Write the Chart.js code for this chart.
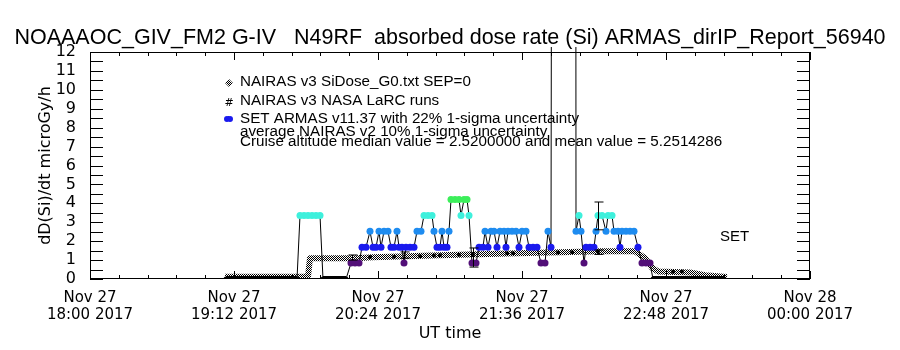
<!DOCTYPE html>
<html>
<head>
<meta charset="utf-8">
<script src="https://cdn.jsdelivr.net/npm/chart.js@4.4.0/dist/chart.umd.min.js"></script>
<style>
  html, body { margin: 0; padding: 0; background: #fff; }
  #wrap { width: 900px; height: 350px; }
</style>
</head>
<body>
<div id="wrap"><canvas id="dose-chart" width="900" height="350"></canvas></div>
<script>
// x values are minutes after Nov 27 2017 18:00 UT
const xTickMinutes = [0, 72, 144, 216, 288, 360];
const xTickLabels = [
    ['Nov 27', '18:00 2017'],
    ['Nov 27', '19:12 2017'],
    ['Nov 27', '20:24 2017'],
    ['Nov 27', '21:36 2017'],
    ['Nov 27', '22:48 2017'],
    ['Nov 28', '00:00 2017']
];

// NAIRAS v3 SiDose_G0 (grey band)
const nairasTimes = [67.5, 109, 110, 132.5, 141.5, 175, 208.5, 235, 255, 272.5, 277.5, 281, 284, 300, 307.5, 318.5];
const nairasDose  = [0.12, 0.12, 1.1, 1.1, 1.15, 1.25, 1.35, 1.42, 1.47, 1.47, 1.1, 0.6, 0.4, 0.35, 0.2, 0.1];

// NAIRAS v3 NASA LaRC runs
const larcTimes = [140, 152, 165, 172, 175, 184.5, 191.5, 208.5, 211.5, 234, 241, 254, 291.5, 296];
const larcDose  = [1.16, 1.18, 1.2, 1.24, 1.26, 1.28, 1.3, 1.36, 1.36, 1.4, 1.42, 1.46, 0.38, 0.4];

// SET ARMAS v11.37
const armasTimes = [
    68, 72, 76, 80, 84, 88, 92, 96, 100, 103.5,
    105, 107, 109, 111, 113, 115, 116.5, 120, 124, 128,
    130.5, 132.5, 134.5, 136, 138, 140, 141.5, 143, 144.5, 145.5,
    147, 149, 150.5, 152, 153.5, 154.5, 156, 157, 158, 160,
    162, 163.5, 165.5, 167, 169, 171, 172, 173.5, 175, 176,
    177, 178.5, 179.5, 180.5, 182.5, 184.5, 185.5, 187, 188.5, 189.5,
    191, 193, 194.5, 196.5, 197.5, 199, 200.5, 202, 203.5, 205,
    207, 208, 209, 211, 213, 214.5, 216, 218, 219.5, 221.5,
    223.5, 225.5, 227.5, 229, 230.5, 232, 242.5, 243, 244.5, 245.5,
    247, 248, 250, 252, 253, 254, 256, 258, 259, 261,
    262, 264, 265, 266, 268, 270, 272, 274, 276, 278,
    280, 281.5, 285, 289, 293, 297, 301, 305, 309, 313, 317
];
const armasDose = [
    0, 0, 0, 0, 0, 0, 0, 0, 0, 0,
    3.36, 3.36, 3.36, 3.36, 3.36, 3.36, 0, 0, 0, 0,
    0.84, 0.84, 0.84, 1.68, 1.68, 2.52, 1.68, 1.68, 2.52, 1.68,
    2.52, 2.52, 1.68, 1.68, 2.52, 1.68, 1.68, 0.84, 1.68, 1.68,
    1.68, 2.52, 2.52, 3.36, 3.36, 3.36, 2.52, 1.68, 1.68, 2.52,
    1.68, 1.68, 2.52, 4.2, 4.2, 4.2, 3.36, 4.2, 4.2, 3.36,
    0.84, 0.84, 1.68, 1.68, 2.52, 1.68, 2.52, 2.52, 1.68, 2.52,
    2.52, 1.68, 2.52, 2.52, 2.52, 1.68, 2.52, 2.52, 1.68, 1.68,
    1.68, 0.84, 0.84, 2.52, 1.68, 100, 100, 2.52, 3.36, 2.52,
    0.84, 1.68, 1.68, 1.68, 2.52, 3.36, 3.36, 2.52, 3.36, 3.36,
    2.52, 2.52, 1.68, 2.52, 2.52, 2.52, 2.52, 1.68, 0.84, 0.84,
    0.84, 0, 0, 0, 0, 0, 0, 0, 0, 0, 0
];

// uncertainty bars
const errTimes = [131, 157, 191.5, 254, 254];
const errLow   = [1.0, 1.1, 0.63, 2.6, 1.3];
const errHigh  = [1.27, 1.43, 1.64, 4.07, 1.53];

const titleText = 'NOAAAOC_GIV_FM2 G-IV   N49RF  absorbed dose rate (Si) ARMAS_dirIP_Report_56940';
const legendLines = [
    'NAIRAS v3 SiDose_G0.txt SEP=0',
    'NAIRAS v3 NASA LaRC runs',
    'SET ARMAS v11.37 with 22% 1-sigma uncertainty',
    'average NAIRAS v2 10% 1-sigma uncertainty',
    'Cruise altitude median value = 2.5200000 and mean value = 5.2514286'
];

function doseColor(v) {
    if (v <= 0) return '#000000';
    if (v < 1) return '#520f78';
    if (v < 2) return '#1a1aee';
    if (v < 3) return '#1e8cf0';
    if (v < 4) return '#3ef0dc';
    return '#3cee5a';
}

// grey dither like the IDL band
function ditherPattern() {
    const c = document.createElement('canvas');
    c.width = 2; c.height = 2;
    const g = c.getContext('2d');
    g.fillStyle = '#ffffff';
    g.fillRect(0, 0, 2, 2);
    g.fillStyle = '#000000';
    g.fillRect(0, 0, 1, 1);
    g.fillRect(1, 1, 1, 1);
    return g.createPattern(c, 'repeat');
}
const dither = ditherPattern();

const frameTicks = {
    id: 'frameTicks',
    afterDatasetsDraw(chart) {
        const { ctx, chartArea: a, scales: { x, y } } = chart;
        ctx.save();
        ctx.strokeStyle = '#000';
        ctx.lineWidth = 1;
        ctx.strokeRect(a.left + 0.5, a.top + 0.5, a.right - a.left - 1, a.bottom - a.top - 1);
        ctx.beginPath();
        for (let i = 0; i <= 25; i++) {
            const px = Math.round(x.getPixelForValue(i * 14.4)) + 0.5;
            const len = i % 5 === 0 ? 8 : 4;
            ctx.moveTo(px, a.bottom); ctx.lineTo(px, a.bottom - len);
            ctx.moveTo(px, a.top); ctx.lineTo(px, a.top + len);
        }
        for (let i = 0; i <= 24; i++) {
            const py = Math.round(y.getPixelForValue(i * 0.5)) + 0.5;
            ctx.moveTo(a.left, py); ctx.lineTo(a.left + 13, py);
            ctx.moveTo(a.right, py); ctx.lineTo(a.right - 13, py);
        }
        ctx.stroke();

        // error bars
        ctx.beginPath();
        for (let i = 0; i < errTimes.length; i++) {
            const px = Math.round(x.getPixelForValue(errTimes[i])) + 0.5;
            const y1 = y.getPixelForValue(errLow[i]);
            const y2 = y.getPixelForValue(errHigh[i]);
            ctx.moveTo(px, y1); ctx.lineTo(px, y2);
            ctx.moveTo(px - 4, y1); ctx.lineTo(px + 5, y1);
            ctx.moveTo(px - 4, y2); ctx.lineTo(px + 5, y2);
        }
        ctx.stroke();
        ctx.restore();
    },
    afterDraw(chart) {
        const ctx = chart.ctx;
        ctx.save();
        ctx.fillStyle = '#000';
        ctx.font = '15.2px "Liberation Sans"';
        ctx.textBaseline = 'middle';
        const ys = [82, 101, 119, 132, 142];
        legendLines.forEach((t, i) => ctx.fillText(t, 240, ys[i]));

        // legend symbols
        ctx.fillStyle = dither;
        ctx.beginPath();
        ctx.moveTo(229, 79); ctx.lineTo(233, 83); ctx.lineTo(229, 87); ctx.lineTo(225, 83);
        ctx.fill();
        ctx.fillStyle = '#000';
        ctx.font = '11px "DejaVu Sans"';
        ctx.textAlign = 'center';
        ctx.fillText('#', 229, 103);
        ctx.fillStyle = '#1a1aee';
        ctx.beginPath();
        ctx.arc(227, 119, 3, 0, Math.PI * 2);
        ctx.arc(230, 119, 3, 0, Math.PI * 2);
        ctx.fill();

        ctx.fillStyle = '#000';
        ctx.font = '15px "Liberation Sans"';
        ctx.textAlign = 'left';
        ctx.fillText('SET', 720, 237);
        ctx.restore();
    }
};

Chart.defaults.font.family = '"Liberation Sans"';
Chart.defaults.color = '#000';

const ctx = document.getElementById('dose-chart').getContext('2d');
new Chart(ctx, {
    type: 'line',
    data: {
        datasets: [
            {
                label: 'NAIRAS v3 NASA LaRC runs',
                data: larcTimes.map((t, i) => ({ x: t, y: larcDose[i] })),
                showLine: false,
                pointRadius: 2,
                pointBackgroundColor: '#000',
                pointBorderWidth: 0
            },
            {
                label: 'SET ARMAS v11.37',
                data: armasTimes.map((t, i) => ({ x: t, y: armasDose[i] })),
                borderColor: '#000',
                borderWidth: 1,
                tension: 0,
                segment: {
                    // zero readings sit on the axis as a heavy black run
                    borderWidth: c => (c.p0.parsed.y === 0 && c.p1.parsed.y === 0) ? 6 : 1
                },
                pointRadius: armasDose.map(v => v > 12 ? 0 : (v === 0 ? 2.5 : 3.5)),
                pointBackgroundColor: armasDose.map(doseColor),
                pointBorderWidth: 0,
                clip: { left: 5, right: 5, top: 5, bottom: 0 }
            },
            {
                label: 'NAIRAS v3 SiDose_G0.txt SEP=0',
                data: nairasTimes.map((t, i) => ({ x: t, y: nairasDose[i] })),
                borderColor: dither,
                borderWidth: 6,
                borderJoinStyle: 'round',
                tension: 0,
                pointRadius: 0
            }
        ]
    },
    options: {
        responsive: false,
        animation: false,
        devicePixelRatio: 1,
        layout: { padding: 0 },
        plugins: {
            legend: { display: false },
            tooltip: { enabled: false },
            title: {
                display: true,
                text: titleText,
                font: { size: 21.5, weight: 'normal', lineHeight: 1 },
                padding: { top: 27, bottom: 3.5 }
            }
        },
        scales: {
            x: {
                type: 'linear',
                position: 'bottom',
                min: 0,
                max: 360,
                afterBuildTicks: s => { s.ticks = xTickMinutes.map(v => ({ value: v })); },
                afterFit: s => { s.height = 71; },
                ticks: {
                    callback: v => xTickLabels[xTickMinutes.indexOf(v)],
                    font: { family: '"DejaVu Sans"', size: 15, lineHeight: 1.1 },
                    padding: 3,
                    maxRotation: 0,
                    autoSkip: false
                },
                grid: { display: false },
                border: { display: false },
                title: {
                    display: true,
                    text: 'UT time',
                    font: { family: '"DejaVu Sans"', size: 16 },
                    padding: { top: 0, bottom: 7 }
                }
            },
            y: {
                type: 'linear',
                position: 'left',
                min: 0,
                max: 12,
                afterFit: s => { s.width = 90; },
                ticks: { stepSize: 1, autoSkip: false, font: { family: '"DejaVu Sans"', size: 16 }, padding: 6 },
                grid: { display: false },
                border: { display: false },
                title: {
                    display: true,
                    text: 'dD(Si)/dt microGy/h',
                    font: { family: '"DejaVu Sans"', size: 16 },
                    padding: { top: 36, bottom: 0 }
                }
            },
            y2: {
                type: 'linear',
                position: 'right',
                min: 0,
                max: 12,
                afterFit: s => { s.width = 90; },
                ticks: { display: false },
                grid: { display: false },
                border: { display: false }
            }
        }
    },
    plugins: [frameTicks]
});
</script>
</body>
</html>
